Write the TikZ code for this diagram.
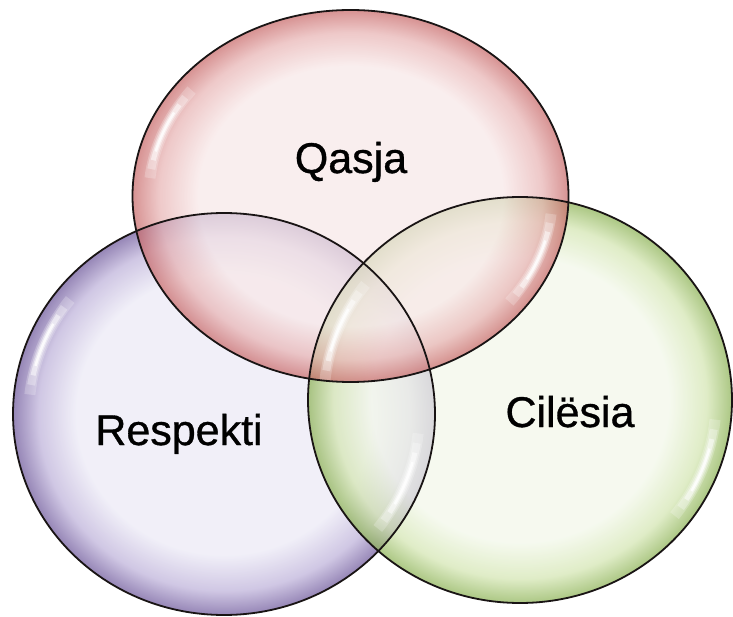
\documentclass[tikz,border=0pt]{standalone}
\usepackage{fontspec}
\setmainfont{Liberation Sans}
\definecolor{redin}{RGB}{248,232,232}
\definecolor{redmid}{RGB}{232,180,180}
\definecolor{redrim}{RGB}{200,105,105}
\definecolor{purin}{RGB}{236,234,246}
\definecolor{purmid}{RGB}{190,178,218}
\definecolor{purrim}{RGB}{110,88,155}
\definecolor{grnin}{RGB}{243,248,234}
\definecolor{grnmid}{RGB}{212,230,178}
\definecolor{grnrim}{RGB}{140,178,85}
\definecolor{edge}{RGB}{25,20,20}
\pgfdeclareradialshading{redbub}{\pgfpoint{0bp}{0bp}}{color(0bp)=(redin); color(17.5bp)=(redin); color(22bp)=(redmid); color(25bp)=(redrim); color(50bp)=(redrim)}
\pgfdeclareradialshading{purbub}{\pgfpoint{0bp}{0bp}}{color(0bp)=(purin); color(17.5bp)=(purin); color(22bp)=(purmid); color(25bp)=(purrim); color(50bp)=(purrim)}
\pgfdeclareradialshading{grnbub}{\pgfpoint{0bp}{0bp}}{color(0bp)=(grnin); color(17.5bp)=(grnin); color(22bp)=(grnmid); color(25bp)=(grnrim); color(50bp)=(grnrim)}
\tikzset{
  bubble/.style={fill opacity=0.72},
  rim/.style={draw=edge, line width=1.8pt},
  shine/.style={draw=white, line cap=butt},
  label/.style={font=\fontsize{43}{50}\selectfont\addfontfeature{FakeBold=0.8}, text=black, anchor=base, inner sep=0pt}
}
\begin{document}
\begin{tikzpicture}[x=1pt,y=-1pt]
\useasboundingbox[fill=white] (0,0) rectangle (733,617);
\coordinate (R) at (350.5,196);
\coordinate (P) at (224,414);
\coordinate (G) at (520,400);
% fills
\shade[bubble, shading=purbub] (P) ellipse [x radius=211pt, y radius=201pt];
\shade[bubble, shading=grnbub] (G) ellipse [x radius=212pt, y radius=203pt];
\shade[bubble, shading=redbub] (R) ellipse [x radius=218pt, y radius=186pt];
% highlights
\foreach \c/\rx/\ry in {R/218/186, P/211/201, G/212/203}{
  \foreach \w/\o/\a/\b in {11/0.22/142/174, 8/0.3/145/171, 5/0.5/148/168, 2.5/0.8/151/165}{
    \draw[shine, line width=\w pt, opacity=\o] (\c) ++(\a:{0.925*\rx pt} and {0.925*\ry pt}) arc[start angle=\a, end angle=\b, x radius={0.925*\rx pt}, y radius={0.925*\ry pt}];
    \draw[shine, line width=\w pt, opacity=\o] (\c) ++({\a-180}:{0.925*\rx pt} and {0.925*\ry pt}) arc[start angle={\a-180}, end angle={\b-180}, x radius={0.925*\rx pt}, y radius={0.925*\ry pt}];
  }
}
% outlines
\draw[rim] (P) ellipse [x radius=211pt, y radius=201pt];
\draw[rim] (G) ellipse [x radius=212pt, y radius=203pt];
\draw[rim] (R) ellipse [x radius=218pt, y radius=186pt];
% labels
\node[label] (tq) at (351,173) {Qasja};
\node[label] (tr) at (179,445) {Respekti};
\node[label] (tc) at (570,427) {Cilësia};
\end{tikzpicture}
\end{document}
